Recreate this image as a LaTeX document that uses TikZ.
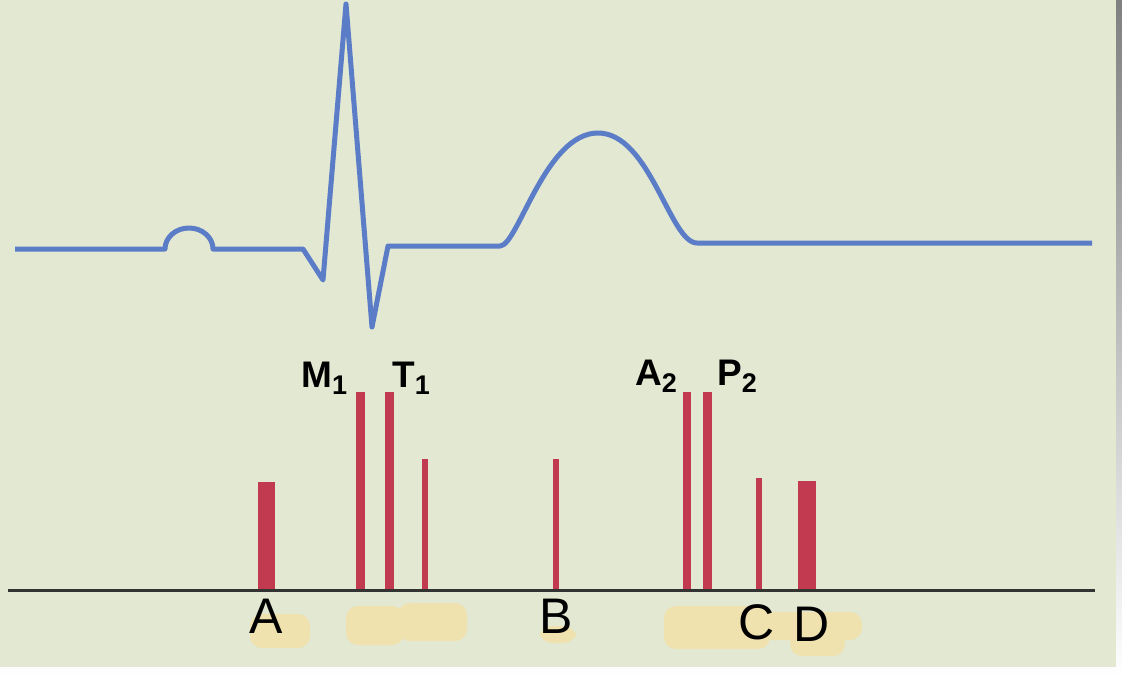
\documentclass[tikz,border=0pt]{standalone}
\usepackage{fontspec}
\setmainfont{Liberation Sans}
\usetikzlibrary{positioning}

\definecolor{paper}{HTML}{E3E8D3}
\definecolor{shade}{HTML}{B2B6A4}
\definecolor{trace}{HTML}{5B7CC6}
\definecolor{heart}{HTML}{C13A4F}
\definecolor{smudge}{HTML}{F0E2AE}

% lowered index after a label letter
\newcommand{\lowix}[1]{{\fontsize{27}{27}\selectfont\raisebox{-7pt}{#1}}}

\begin{document}
\begin{tikzpicture}[x=1pt,y=-1pt,
  ecg/.style={trace,line width=5pt,line join=round},
  sound/.style={fill=heart},
  smear/.style={fill=smudge,rounded corners=12pt},
  beat/.style={inner sep=0pt,anchor=base west,font=\bfseries\fontsize{37}{37}\selectfont},
  event/.style={inner sep=0pt,anchor=base,font=\fontsize{50}{50}\selectfont}
]
  \useasboundingbox (0,0) rectangle (1122,678);
  \fill[shade] (0,0) rectangle (1122,678);
  \fill[paper] (0,0) rectangle (1116,667);

  % electrocardiogram
  \draw[ecg] (15,249) -- (165,249)
    arc[start angle=180,end angle=360,x radius=24,y radius=21]
    -- (303,249) -- (323,280) -- (346,4) -- (372,327) -- (388,246) -- (500,246)
    .. controls (518,246) and (545,133) .. (598,133)
    .. controls (650,133) and (670,243) .. (697,243) -- (1092,243);

  % smudges under the letters
  \fill[smear] (250,614) rectangle (310,648);
  \fill[smear] (346,606) rectangle (404,645);
  \fill[smear] (398,603) rectangle (467,641);
  \fill[smear] (540,626) rectangle (576,643);
  \fill[smear] (664,606) rectangle (770,649);
  \fill[smear] (760,612) rectangle (862,640);
  \fill[smear] (790,630) rectangle (845,656);

  % heart sounds
  \foreach \cx/\w/\ytop in {266/17/482, 360/9/392, 389/9/392, 424.5/6/459,
      555.5/6/459, 686.5/8/392, 707/9/392, 758.5/6/478, 807/18/481}
    \fill[sound] (\cx-\w/2,\ytop) rectangle (\cx+\w/2,590);

  \coordinate (axisL) at (8,590);
  \coordinate (axisR) at (1095,590);
  \draw[line width=3pt,black!80] (axisL) -- (axisR);

  % sound labels
  \node[beat] (m1) at (301,387) {M\lowix{1}};
  \node[beat] (t1) at (392,387) {T\lowix{1}};
  \node[beat] (a2) at (635,385) {A\lowix{2}};
  \node[beat] (p2) at (717,385) {P\lowix{2}};

  \node[event] (ea) at (266,633) {A};
  \node[event] (eb) at (556,633) {B};
  \node[event] (ec) at (757,639) {C};
  \node[event] (ed) at (812,641) {D};
\end{tikzpicture}
\end{document}
